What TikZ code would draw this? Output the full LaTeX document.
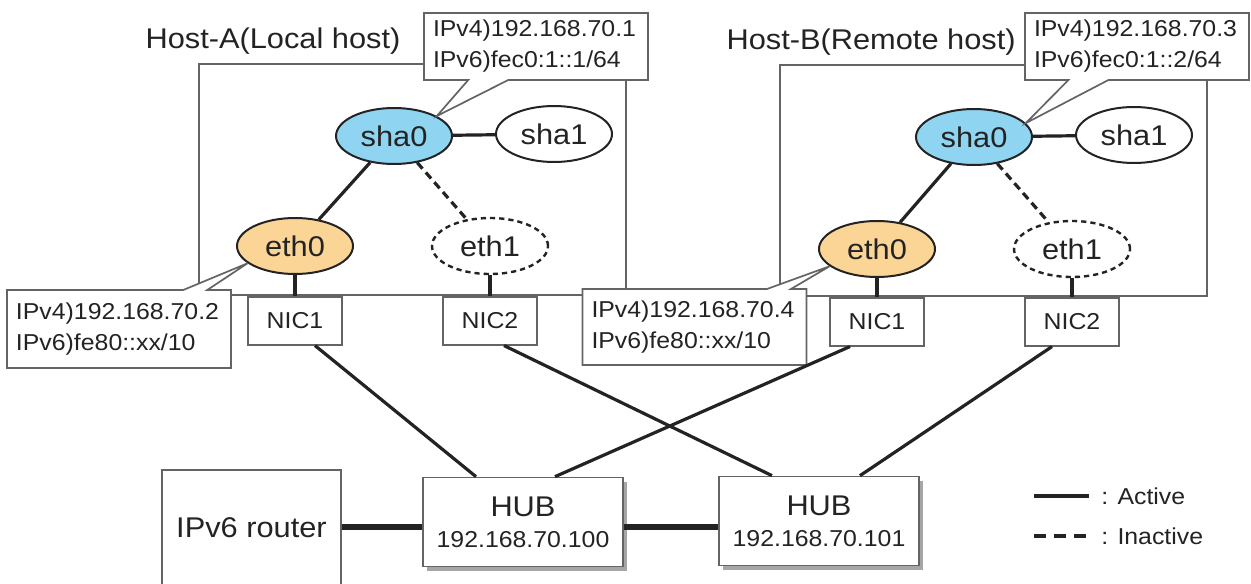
\documentclass[tikz,border=0pt]{standalone}
\usepackage{fontspec}
\setmainfont{Liberation Sans}[FakeStretch=1.08]
\usetikzlibrary{shapes.geometric,shapes.callouts,positioning,calc,shadows}

\definecolor{shablue}{RGB}{143,212,240}
\definecolor{ethorange}{RGB}{250,213,150}
\definecolor{boxgray}{RGB}{100,100,100}
\definecolor{inkgray}{RGB}{35,35,35}

\newcommand{\bigfont}{\fontsize{14.25}{17}\selectfont}
\newcommand{\smallfont}{\fontsize{11.5}{15.5}\selectfont}

\begin{document}
\begin{tikzpicture}[
    x=0.5pt, y=-0.5pt,
    every node/.style={text=inkgray},
    hostbox/.style={
        draw=boxgray,
        line width=0.85pt,
        minimum width=213.5pt,
        minimum height=115.5pt,
        inner sep=0pt
    },
    hostlbl/.style={font=\bigfont, inner sep=0pt, anchor=base west},
    iface/.style={
        ellipse,
        draw=inkgray,
        line width=1pt,
        minimum width=58pt,
        minimum height=28pt,
        inner sep=0pt,
        font=\bigfont
    },
    idle/.style={iface, line width=1.2pt, dash pattern=on 2.6pt off 2pt},
    nic/.style={
        draw=boxgray,
        fill=white,
        line width=0.85pt,
        minimum width=47pt,
        minimum height=24pt,
        inner sep=0pt,
        font=\smallfont
    },
    note/.style={
        rectangle callout,
        draw=boxgray,
        fill=white,
        line width=0.85pt,
        text width=103pt,
        inner xsep=4.5pt,
        minimum height=#1,
        align=left,
        font=\smallfont
    },
    hub/.style={
        draw=boxgray,
        fill=white,
        line width=0.85pt,
        minimum width=100pt,
        minimum height=44.5pt,
        align=center,
        font=\smallfont,
        drop shadow={shadow xshift=2.2pt, shadow yshift=-2.2pt, fill=black!35, opacity=1}
    },
    link/.style={draw=inkgray, line width=1.6pt},
    standby/.style={link, dash pattern=on 4pt off 2.5pt},
    trunk/.style={draw=inkgray, line width=2.8pt}
]
\useasboundingbox (0,0) rectangle (1251,583);

%-----------------------------------
% Host-A
%-----------------------------------
\node[hostbox] (hostA) at (412.5,179.5) {};
\node[hostlbl] (hostAlbl) at ($(hostA.north west)+(-53,-15)$) {Host-A(Local host)};

\node[iface, fill=shablue] (sha0A) at (394,136) {sha0};
\node[iface] (sha1A) at (554,134) {sha1};
\node[iface, fill=ethorange] (eth0A) at (295,246) {eth0};
\node[idle] (eth1A) at (490,246) {eth1};

\node[nic, anchor=north] (nic1A) at (eth0A |- hostA.south) {NIC1};
\node[nic, anchor=north] (nic2A) at (eth1A |- hostA.south) {NIC2};

\draw[link] (sha0A) -- (sha1A);
\draw[link] (sha0A) -- (eth0A);
\draw[standby] (sha0A) -- (eth1A);
\draw[link] (eth0A) -- (nic1A);
\draw[link] (eth1A) -- (nic2A);

\node[note=33.5pt, callout absolute pointer={(sha0A.25)}, callout pointer width=20pt] (ipA) at (536,46.5) {%
IPv4)192.168.70.1\\
IPv6)fec0:1::1/64
};
\node[note=39pt, callout absolute pointer={(eth0A.200)}, callout pointer width=12pt] (llA) at (119,329) {%
IPv4)192.168.70.2\\
IPv6)fe80::xx/10
};

%-----------------------------------
% Host-B
%-----------------------------------
\node[hostbox] (hostB) at (993.5,180.5) {};
\node[hostlbl] (hostBlbl) at ($(hostB.north west)+(-53,-15)$) {Host-B(Remote host)};

\node[iface, fill=shablue] (sha0B) at (974,137) {sha0};
\node[iface] (sha1B) at (1134,135) {sha1};
\node[iface, fill=ethorange] (eth0B) at (877,249) {eth0};
\node[idle] (eth1B) at (1072,249) {eth1};

\node[nic, anchor=north] (nic1B) at (eth0B |- hostB.south) {NIC1};
\node[nic, anchor=north] (nic2B) at (eth1B |- hostB.south) {NIC2};

\draw[link] (sha0B) -- (sha1B);
\draw[link] (sha0B) -- (eth0B);
\draw[standby] (sha0B) -- (eth1B);
\draw[link] (eth0B) -- (nic1B);
\draw[link] (eth1B) -- (nic2B);

\node[note=33.5pt, callout absolute pointer={(sha0B.15)}, callout pointer width=20pt] (ipB) at (1137,46.5) {%
IPv4)192.168.70.3\\
IPv6)fec0:1::2/64
};
\node[note=38pt, callout absolute pointer={(eth0B.200)}, callout pointer width=12pt] (llB) at (694.5,327) {%
IPv4)192.168.70.4\\
IPv6)fe80::xx/10
};

%-----------------------------------
% Router and hubs
%-----------------------------------
\node[draw=boxgray, line width=0.85pt, minimum width=89.5pt, minimum height=58pt, font=\bigfont] (router) at (251.5,528) {IPv6 router};
\node[hub] (hubA) at (523,522) {{\bigfont HUB}\\192.168.70.100};
\node[hub] (hubB) at (819,521) {{\bigfont HUB}\\192.168.70.101};

\coordinate (trunkY) at (0,527);
\draw[trunk] (router.east |- trunkY) -- (hubA.west |- trunkY);
\draw[trunk] (hubA.east |- trunkY) -- (hubB.west |- trunkY);

%-----------------------------------
% Cables
%-----------------------------------
\draw[link] ([xshift=10pt]nic1A.south) -- ([xshift=-23.5pt]hubA.north);
\draw[link] ([xshift=7pt]nic2A.south) -- ([xshift=-23.5pt]hubB.north);
\draw[link] ([xshift=-13.5pt]nic1B.south) -- ([xshift=16pt]hubA.north);
\draw[link] ([xshift=-10pt]nic2B.south) -- ([xshift=20.5pt]hubB.north);

%-----------------------------------
% Legend
%-----------------------------------
\node[font=\smallfont, anchor=west, inner sep=0pt] (actLbl) at (1101,496) {: Active};
\node[font=\smallfont, anchor=west, inner sep=0pt] (idleLbl) at (1101,536) {: Inactive};
\draw[link] ([xshift=-33.5pt]actLbl.west) -- ([xshift=-6pt]actLbl.west);
\draw[link, dash pattern=on 6pt off 4pt] ([xshift=-33.5pt]idleLbl.west) -- ([xshift=-6pt]idleLbl.west);

\end{tikzpicture}
\end{document}
